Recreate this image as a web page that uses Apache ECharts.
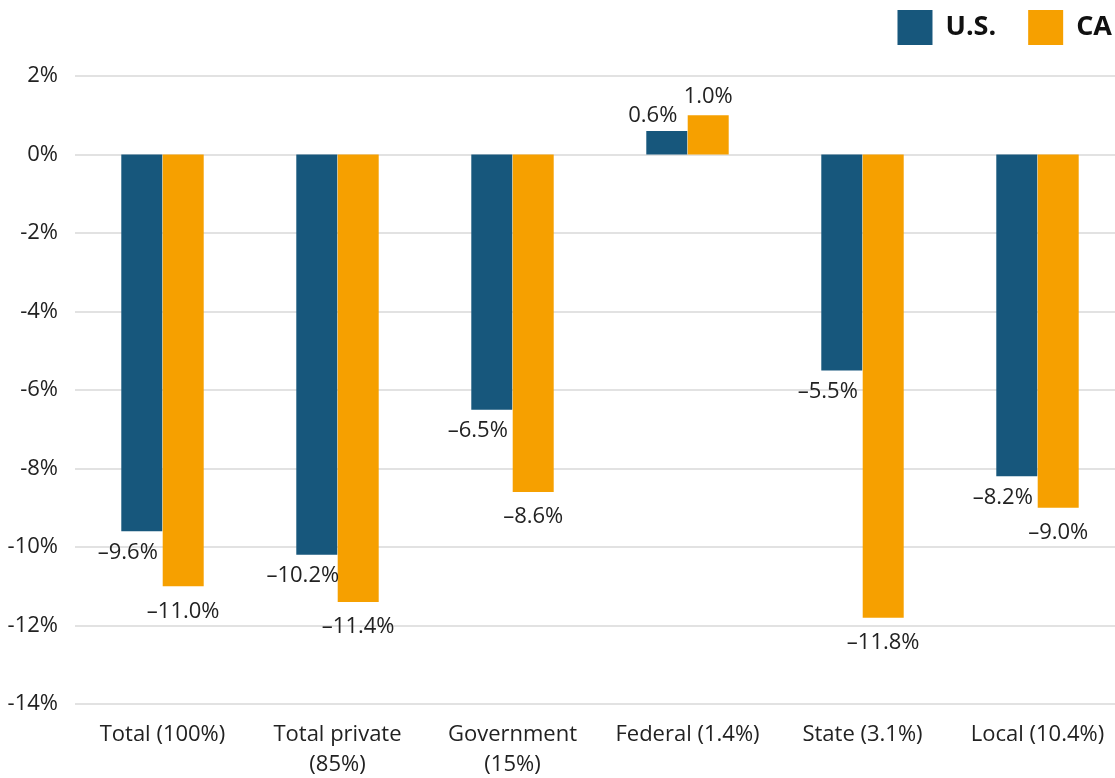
<!DOCTYPE html>
<html>
<head>
<meta charset="utf-8">
<script src="https://cdn.jsdelivr.net/npm/echarts@6/dist/echarts.min.js"></script>
<style>html,body{margin:0;padding:0;background:#fff}#c{width:1115px;height:778px}</style>
</head>
<body>
<div id="c"></div>
<script>
const categories = ['Total (100%)', 'Total private\n(85%)', 'Government\n(15%)', 'Federal (1.4%)', 'State (3.1%)', 'Local (10.4%)'];
const usValues = [-9.6, -10.2, -6.5, 0.6, -5.5, -8.2];
const caValues = [-11.0, -11.4, -8.6, 1.0, -11.8, -9.0];
const yTicks = { min: -14, max: 2, interval: 2 };

const FONT = '"Open Sans", "Noto Sans", sans-serif';
const fmt = v => (v < 0 ? '\u2013' + Math.abs(v).toFixed(1) : v.toFixed(1)) + '%';

function mk(vals, negDist, posDist, offX) {
  return vals.map(v => ({
    value: v,
    label: { position: v < 0 ? 'bottom' : 'top', distance: v < 0 ? negDist : posDist, offset: [offX, 0] }
  }));
}

const chart = echarts.init(document.getElementById('c'));
chart.setOption({
  animation: false,
  textStyle: { fontFamily: FONT },
  legend: {
    right: 3, top: 10, padding: 0, itemWidth: 35, itemHeight: 35, itemGap: 32, icon: 'rect',
    textStyle: { fontSize: 27, fontWeight: 'bold', color: '#111', fontFamily: FONT, padding: [0, 0, 0, 8] },
    data: ['U.S.', 'CA']
  },
  grid: { left: 75, top: 76, width: 1050, height: 628, containLabel: false, outerBoundsMode: 'none' },
  xAxis: {
    type: 'category', data: categories,
    axisLine: { show: false }, axisTick: { show: false },
    axisLabel: { fontSize: 22, color: '#222', lineHeight: 30, margin: 16, fontFamily: FONT, interval: 0 }
  },
  yAxis: {
    type: 'value', min: yTicks.min, max: yTicks.max, interval: yTicks.interval,
    axisLine: { show: false }, axisTick: { show: false },
    axisLabel: { fontSize: 22, color: '#222', margin: 17, fontFamily: FONT, formatter: v => v + '%' },
    splitLine: { lineStyle: { color: '#d9d9d9', width: 1.5 } }
  },
  series: [
    {
      name: 'U.S.', type: 'bar', barWidth: 41, barGap: '1%',
      itemStyle: { color: '#17577c' },
      label: { show: true, fontSize: 22, color: '#222', fontFamily: FONT, formatter: p => fmt(p.value) },
      data: mk(usValues, 10, 4, -14)
    },
    {
      name: 'CA', type: 'bar', barWidth: 41,
      itemStyle: { color: '#f6a000' },
      label: { show: true, fontSize: 22, color: '#222', fontFamily: FONT, formatter: p => fmt(p.value) },
      data: mk(caValues, 14, 8, 0)
    }
  ]
});
</script>
</body>
</html>
